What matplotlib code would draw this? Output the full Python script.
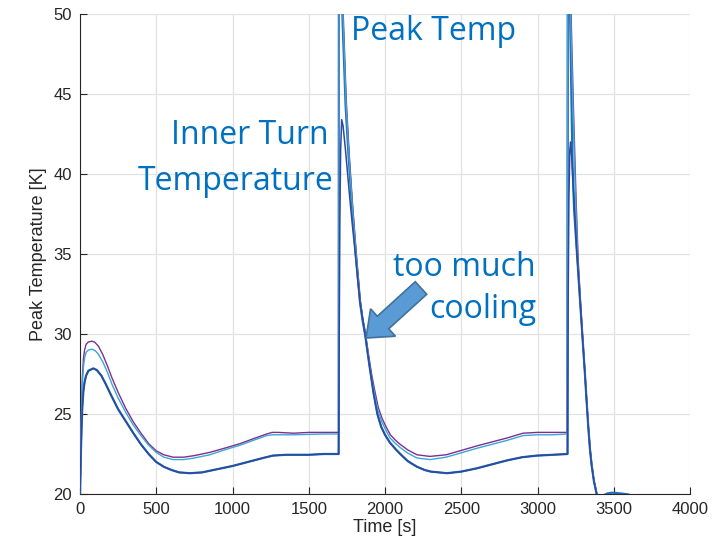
import matplotlib
matplotlib.use("Agg")
import matplotlib.pyplot as plt
from matplotlib.patches import FancyArrow

# data (time [s], temperature [K])
t_purple = [0, 3, 6, 10, 15, 22, 30, 40, 55, 77, 95, 120, 150, 180, 210, 250, 300, 350,
            400, 450, 500, 550, 611, 680, 750, 850, 962, 1050, 1150, 1224, 1260, 1300,
            1400, 1500, 1600, 1697,
            1700, 1726, 1746, 1765, 1785, 1812, 1838, 1854, 1871, 1892, 1912, 1932,
            1956, 1982, 2007, 2035, 2070, 2100, 2150, 2210, 2295, 2400, 2492, 2600,
            2700, 2800, 2905, 3000, 3100, 3195,
            3199, 3220, 3236, 3253, 3267, 3280, 3295, 3311, 3322, 3333, 3344, 3355,
            3370, 3388, 3400]
T_purple = [20, 21.5, 23.5, 25.5, 27.2, 28.4, 29.0, 29.35, 29.5, 29.55, 29.5, 29.25,
            28.7, 28.0, 27.25, 26.35, 25.35, 24.5, 23.8, 23.15, 22.7, 22.45, 22.3, 22.3,
            22.4, 22.6, 22.9, 23.15, 23.5, 23.75, 23.85, 23.85, 23.8, 23.85, 23.85, 23.85,
            60, 50, 44.6, 41.3, 38.4, 35.0, 32.1, 31.0, 30.1, 28.7, 27.5, 26.5,
            25.4, 24.7, 24.2, 23.7, 23.35, 23.1, 22.75, 22.45, 22.35, 22.45, 22.7, 23.0,
            23.25, 23.5, 23.8, 23.85, 23.85, 23.85,
            60, 50, 44, 38.4, 34.6, 32.3, 29.9, 27.6, 25.9, 24.3, 22.9, 21.9,
            20.85, 20.05, 19.7]

t_cyan = [0, 3, 6, 10, 15, 22, 30, 40, 55, 80, 100, 120, 150, 180, 210, 250, 300, 350,
          400, 450, 500, 550, 611, 680, 750, 850, 962, 1050, 1150, 1224, 1260, 1400,
          1600, 1697,
          1699, 1724, 1744, 1763, 1783, 1810, 1836, 1852, 1869, 1890, 1910, 1930,
          1954, 1980, 2005, 2033, 2070, 2100, 2150, 2210, 2295, 2400, 2492, 2600,
          2700, 2800, 2905, 3000, 3100, 3195,
          3198, 3217, 3233, 3250, 3265, 3279, 3295, 3311, 3322, 3333, 3344, 3355,
          3370, 3388, 3400]
T_cyan = [20, 21.4, 23.3, 25.2, 26.8, 27.9, 28.5, 28.85, 29.0, 29.05, 28.95, 28.75,
          28.25, 27.6, 26.85, 26.0, 25.1, 24.3, 23.65, 23.05, 22.6, 22.3, 22.15, 22.15,
          22.25, 22.45, 22.8, 23.05, 23.4, 23.65, 23.7, 23.7, 23.75, 23.75,
          60, 50, 44.6, 41.3, 38.4, 35.0, 32.1, 31.0, 30.1, 28.7, 27.4, 26.3,
          25.2, 24.5, 24.0, 23.5, 23.15, 22.9, 22.55, 22.25, 22.15, 22.3, 22.55, 22.85,
          23.1, 23.35, 23.65, 23.7, 23.7, 23.75,
          60, 50, 44, 38.4, 34.5, 32.3, 29.9, 27.6, 25.9, 24.3, 22.9, 21.9,
          20.85, 20.05, 19.7]

t_inner = [0, 3, 6, 10, 15, 22, 30, 40, 55, 87, 110, 140, 170, 200, 250, 300, 350, 400,
           450, 500, 550, 600, 650, 721, 800, 900, 1000, 1100, 1200, 1265, 1350, 1500,
           1600, 1696,
           1700, 1704, 1709, 1716, 1725, 1740, 1755, 1770, 1785, 1800, 1818, 1836,
           1852, 1869, 1885, 1900, 1925, 1950, 1975, 2000, 2033, 2070, 2100, 2150,
           2210, 2260, 2300, 2407, 2500, 2600, 2700, 2800, 2900, 2997, 3100, 3197,
           3201, 3206, 3212, 3217, 3225, 3234, 3255, 3279, 3295, 3311, 3322, 3333,
           3344, 3355, 3370, 3388, 3400]
T_inner = [20, 21.2, 22.6, 24.0, 25.4, 26.4, 27.0, 27.4, 27.7, 27.85, 27.75, 27.4,
           26.85, 26.25, 25.3, 24.55, 23.8, 23.1, 22.5, 22.0, 21.7, 21.5, 21.35, 21.3,
           21.35, 21.55, 21.75, 22.0, 22.25, 22.4, 22.45, 22.45, 22.5, 22.5,
           30, 37, 41.5, 43.4, 43.0, 41.6, 40.0, 38.4, 36.9, 35.5, 33.7, 32.0,
           31.0, 30.0, 28.9, 27.9, 26.3, 25.0, 24.2, 23.7, 23.2, 22.8, 22.5, 22.05,
           21.7, 21.5, 21.4, 21.3, 21.4, 21.6, 21.85, 22.1, 22.3, 22.4, 22.45, 22.5,
           32, 38.5, 41.5, 42.0, 41.0, 39.3, 35.6, 32.1, 29.8, 27.5, 25.8, 24.2,
           22.8, 21.8, 20.8, 20.0, 19.7]

# overall peak temperature: like the inner turn, but spiking far above 50 K
t_peak = t_inner[:34] + [1698, 1722, 1742, 1762, 1782, 1810, 1836, 1852, 1869] \
    + t_inner[47:70] + [3199, 3214, 3222, 3230, 3240, 3255, 3279, 3295, 3311, 3322,
                        3333, 3344, 3355, 3370, 3388, 3400, 3420, 3440, 3460, 3490,
                        3520, 3560, 3590, 3620]
T_peak = T_inner[:34] + [60, 49.5, 44.2, 41.0, 38.2, 34.8, 32.0, 30.9, 30.0] \
    + T_inner[47:70] + [60, 50, 45, 40.5, 37.8, 35.6, 32.1, 29.8, 27.5, 25.8,
                        24.2, 22.8, 21.8, 20.8, 20.0, 19.85, 19.8, 19.95, 20.04, 20.08,
                        20.06, 20.02, 19.98, 19.9]

x_ticks = [0, 500, 1000, 1500, 2000, 2500, 3000, 3500, 4000]
y_ticks = [20, 25, 30, 35, 40, 45, 50]

plt.rcParams["font.family"] = ["Liberation Sans", "DejaVu Sans"]

fig = plt.figure(figsize=(7.2, 5.47), dpi=100)
ax = fig.add_axes([80 / 720, 53 / 547, 610 / 720, 480 / 547])

ax.plot(t_peak, T_peak, color="#1f6fb8", lw=1.6, zorder=3)
ax.plot(t_purple, T_purple, color="#7e2f8e", lw=1.0, zorder=4)
ax.plot(t_cyan, T_cyan, color="#3aa6d8", lw=1.0, zorder=5)
ax.plot(t_inner, T_inner, color="#2b4a9e", lw=1.1, zorder=6)

ax.set_xlim(0, 4000)
ax.set_ylim(20, 50)
ax.set_xticks(x_ticks)
ax.set_yticks(y_ticks)
ax.grid(True, color="#e2e2e2", lw=0.9)
ax.set_axisbelow(True)
for side in ["top", "right"]:
    ax.spines[side].set_visible(False)
for side in ["left", "bottom"]:
    ax.spines[side].set_color("#262626")
ax.tick_params(direction="in", length=5, colors="#262626", labelsize=12, pad=6)
ax.set_xlabel("Time [s]", fontsize=13, color="#262626", labelpad=1)
ax.set_ylabel("Peak Temperature [K]", fontsize=13, color="#262626", labelpad=4)

blue = "#0070c0"
tfont = ["Open Sans", "DejaVu Sans"]
labels = [("Peak Temp", 351, 40, "left"),
          ("Inner Turn", 329, 144, "right"),
          ("Temperature", 334, 190, "right"),
          ("too much", 536, 276, "right"),
          ("cooling", 536, 318, "right")]
for txt, px, py, ha in labels:
    fig.text(px / 720, 1 - py / 547, txt, color=blue, fontsize=23,
             family=tfont, ha=ha, va="baseline")

# block arrow in pixel coordinates
arrow = FancyArrow(421, 547 - 288, -55, -50, width=17, head_width=37,
                   head_length=23, length_includes_head=True,
                   facecolor="#5b9bd5", edgecolor="#41719c", lw=1.2,
                   transform=None, zorder=10)
fig.add_artist(arrow)

fig.savefig("out.png", dpi=100)
